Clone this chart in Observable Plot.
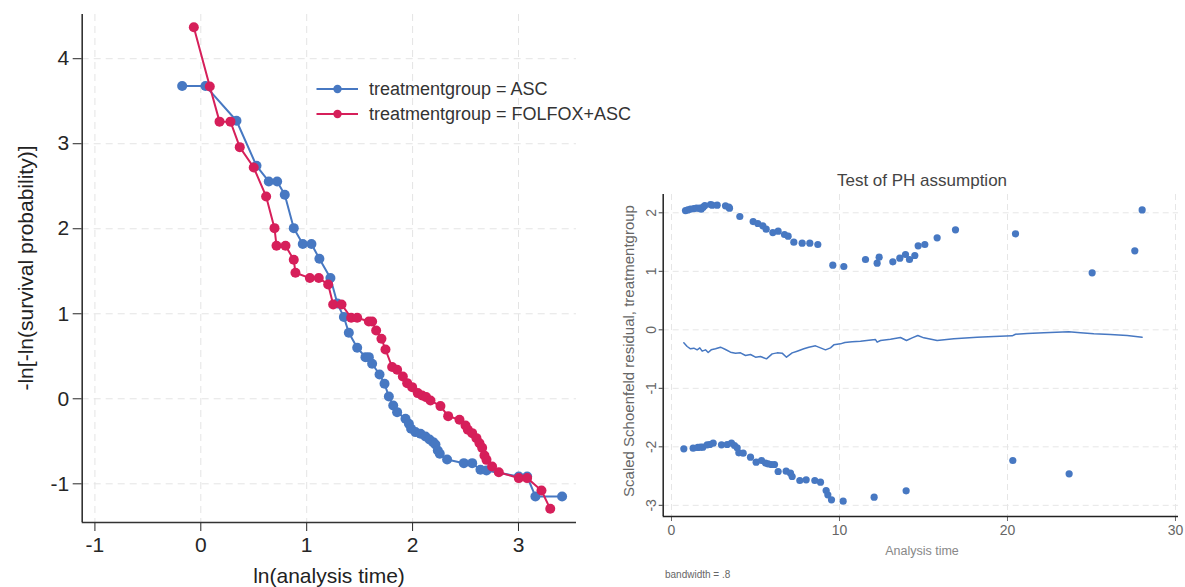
<!DOCTYPE html>
<html>
<head>
<meta charset="utf-8">
<script src="https://cdn.jsdelivr.net/npm/d3@7"></script>
<script src="https://cdn.jsdelivr.net/npm/@observablehq/plot@0.6"></script>
<style>
  html, body { margin: 0; padding: 0; background: #fff; }
  #wrap { position: relative; width: 1185px; height: 587px; overflow: hidden; font-family: "Liberation Sans", Arial, sans-serif; }
  #wrap svg { position: absolute; top: 0; overflow: visible; }
  .t { position: absolute; white-space: nowrap; line-height: 1; }
</style>
</head>
<body>
<div id="wrap"></div>
<script>
// ---------- Left panel: log-log survival ----------
const groupNames = ["treatmentgroup = ASC", "treatmentgroup = FOLFOX+ASC"];
const xTicksL = [-1, 0, 1, 2, 3];
const yTicksL = [-1, 0, 1, 2, 3, 4];

const ascLnT = [-0.176, 0.044, 0.337, 0.526, 0.642, 0.721, 0.793, 0.878, 0.963, 1.045, 1.12, 1.224, 1.29, 1.351, 1.398, 1.477, 1.555, 1.587, 1.618, 1.688, 1.735, 1.776, 1.817, 1.854, 1.933, 1.965, 1.986, 2.027, 2.075, 2.122, 2.16, 2.194, 2.216, 2.238, 2.257, 2.326, 2.484, 2.563, 2.641, 2.698, 3.003, 3.082, 3.16, 3.412];
const ascVal = [3.68, 3.68, 3.27, 2.74, 2.556, 2.556, 2.40, 2.007, 1.82, 1.82, 1.647, 1.42, 1.12, 0.961, 0.776, 0.600, 0.490, 0.490, 0.412, 0.286, 0.176, 0.027, -0.079, -0.157, -0.235, -0.294, -0.353, -0.392, -0.412, -0.443, -0.479, -0.510, -0.537, -0.608, -0.647, -0.714, -0.757, -0.757, -0.835, -0.843, -0.914, -0.914, -1.149, -1.149];

const folLnT = [-0.066, 0.085, 0.177, 0.28, 0.368, 0.50, 0.617, 0.696, 0.715, 0.80, 0.878, 0.894, 1.03, 1.114, 1.203, 1.25, 1.329, 1.42, 1.477, 1.587, 1.618, 1.656, 1.706, 1.744, 1.807, 1.854, 1.908, 1.949, 1.996, 2.049, 2.09, 2.128, 2.169, 2.263, 2.336, 2.443, 2.5, 2.522, 2.563, 2.603, 2.632, 2.657, 2.679, 2.698, 2.751, 2.814, 3.003, 3.082, 3.217, 3.30];
const folVal = [4.37, 3.674, 3.26, 3.26, 2.96, 2.72, 2.38, 2.007, 1.80, 1.80, 1.635, 1.482, 1.42, 1.42, 1.345, 1.11, 1.11, 0.953, 0.953, 0.91, 0.91, 0.804, 0.706, 0.58, 0.373, 0.341, 0.263, 0.184, 0.137, 0.067, 0.039, 0.02, -0.02, -0.086, -0.204, -0.247, -0.314, -0.365, -0.404, -0.463, -0.522, -0.577, -0.667, -0.718, -0.796, -0.863, -0.933, -0.933, -1.079, -1.294];

// ---------- Right panel: Schoenfeld residuals ----------
const xTicksR = [0, 10, 20, 30];
const yTicksR = [-3, -2, -1, 0, 1, 2];

const topT = [0.833, 0.972, 1.131, 1.329, 1.488, 1.666, 1.766, 1.885, 1.984, 2.321, 2.42, 2.718, 3.214, 3.412, 3.452, 4.067, 4.861, 5.139, 5.436, 5.635, 6.032, 6.349, 6.726, 6.944, 7.282, 7.778, 8.234, 8.71, 9.603, 10.258, 11.548, 12.242, 12.361, 13.175, 13.591, 13.929, 14.167, 14.484, 14.683, 15.079, 15.813, 16.905, 20.476, 25.04, 27.579, 28.016];
const topV = [2.039, 2.05, 2.062, 2.073, 2.079, 2.079, 2.062, 2.096, 2.125, 2.142, 2.13, 2.13, 2.119, 2.096, 2.079, 1.937, 1.851, 1.817, 1.777, 1.72, 1.663, 1.686, 1.629, 1.6, 1.498, 1.481, 1.481, 1.458, 1.105, 1.082, 1.202, 1.139, 1.241, 1.162, 1.224, 1.287, 1.202, 1.27, 1.435, 1.458, 1.572, 1.709, 1.64, 0.974, 1.35, 2.05];

const botT = [0.734, 1.289, 1.567, 1.726, 1.865, 2.123, 2.282, 2.48, 2.976, 3.313, 3.571, 3.75, 3.909, 4.008, 4.266, 4.702, 5.039, 5.357, 5.595, 5.754, 5.952, 6.131, 6.349, 6.825, 7.083, 7.182, 7.639, 8.016, 8.532, 8.869, 9.206, 9.306, 9.524, 10.218, 12.063, 13.968, 20.317, 23.67];
const botV = [-2.034, -2.023, -2.011, -2.006, -2.006, -1.966, -1.96, -1.937, -1.966, -1.96, -1.937, -1.977, -2.017, -2.103, -2.108, -2.177, -2.262, -2.234, -2.279, -2.291, -2.302, -2.302, -2.422, -2.416, -2.45, -2.507, -2.576, -2.564, -2.576, -2.604, -2.747, -2.821, -2.906, -2.929, -2.86, -2.752, -2.234, -2.462];

const smoothT = [0.734, 0.932, 1.131, 1.329, 1.528, 1.686, 1.825, 2.024, 2.182, 2.361, 2.619, 2.916, 3.214, 3.512, 3.809, 4.107, 4.405, 4.702, 5.0, 5.298, 5.655, 5.992, 6.29, 6.587, 6.845, 7.182, 7.48, 7.877, 8.175, 8.571, 8.869, 9.167, 9.464, 9.663, 10.06, 10.317, 10.754, 11.25, 11.746, 12.143, 12.242, 12.44, 13.036, 13.631, 13.988, 14.325, 14.663, 15.02, 15.813, 16.806, 18.194, 19.187, 20.278, 20.476, 21.171, 22.163, 23.651, 24.345, 25.139, 26.131, 27.123, 28.016];
const smoothV = [-0.223, -0.285, -0.325, -0.314, -0.342, -0.308, -0.365, -0.342, -0.388, -0.342, -0.325, -0.297, -0.337, -0.382, -0.399, -0.394, -0.439, -0.422, -0.468, -0.456, -0.496, -0.411, -0.394, -0.399, -0.468, -0.394, -0.365, -0.325, -0.297, -0.274, -0.308, -0.342, -0.308, -0.257, -0.24, -0.217, -0.206, -0.194, -0.177, -0.166, -0.211, -0.183, -0.16, -0.132, -0.183, -0.137, -0.097, -0.137, -0.183, -0.154, -0.126, -0.114, -0.103, -0.075, -0.063, -0.052, -0.035, -0.052, -0.069, -0.08, -0.097, -0.126];

// ---------- styling ----------
const BLUE = "#4778c2";
const RED = "#d61f5a";
const FONT = "'Liberation Sans', Arial, sans-serif";
const xDomL = [-1.12, 3.548];
const yDomL = [-1.455, 4.52];
const xDomR = [-0.494, 30.18];
const yDomR = [-3.191, 2.313];
const fmt = d => String(d);

const wrap = document.getElementById("wrap");

const left = Plot.plot({
  width: 600, height: 587,
  marginLeft: 81.7, marginRight: 24, marginTop: 14, marginBottom: 65,
  x: {domain: xDomL},
  y: {domain: yDomL},
  style: {fontFamily: FONT, background: "transparent"},
  marks: [
    Plot.gridX(xTicksL, {stroke: "#e4e4e4", strokeOpacity: 1, strokeDasharray: "7,5"}),
    Plot.gridY(yTicksL, {stroke: "#e4e4e4", strokeOpacity: 1, strokeDasharray: "7,5"}),
    Plot.axisX(xTicksL, {tickSize: 9, tickPadding: 6, fontSize: 21, color: "#262626", tickFormat: fmt, label: null}),
    Plot.axisY(yTicksL, {tickSize: 9, tickPadding: 4, fontSize: 21, color: "#262626", tickFormat: fmt, label: null}),
    Plot.ruleX([xDomL[0]], {stroke: "#333", strokeWidth: 1.6}),
    Plot.ruleY([yDomL[0]], {stroke: "#333", strokeWidth: 1.6}),
    Plot.line({length: ascLnT.length}, {x: ascLnT, y: ascVal, stroke: BLUE, strokeWidth: 2}),
    Plot.dot({length: ascLnT.length}, {x: ascLnT, y: ascVal, r: 5, fill: BLUE}),
    Plot.line({length: folLnT.length}, {x: folLnT, y: folVal, stroke: RED, strokeWidth: 2}),
    Plot.dot({length: folLnT.length}, {x: folLnT, y: folVal, r: 5, fill: RED})
  ]
});
left.style.left = "0px";
wrap.appendChild(left);

const right = Plot.plot({
  width: 585, height: 587,
  marginLeft: 62.7, marginRight: 7, marginTop: 194, marginBottom: 71,
  x: {domain: xDomR},
  y: {domain: yDomR},
  style: {fontFamily: FONT, background: "transparent"},
  marks: [
    Plot.gridX(xTicksR, {stroke: "#e6e6e6", strokeOpacity: 1, strokeDasharray: "6,4"}),
    Plot.gridY(yTicksR, {stroke: "#e6e6e6", strokeOpacity: 1, strokeDasharray: "6,4"}),
    Plot.axisX(xTicksR, {tickSize: 5, tickPadding: 4, fontSize: 14, color: "#666", tickFormat: fmt, label: null}),
    Plot.axisY(yTicksR, {tickSize: 4, tickPadding: 0, tickFormat: () => "", label: null, color: "#444"}),
    Plot.text(yTicksR, {y: d => d, text: fmt, frameAnchor: "left", dx: -7, rotate: -90, textAnchor: "middle", lineAnchor: "bottom", fontSize: 14, fill: "#666"}),
    Plot.ruleX([xDomR[0]], {stroke: "#222", strokeWidth: 1.5}),
    Plot.ruleY([yDomR[0]], {stroke: "#222", strokeWidth: 1.5}),
    Plot.line({length: smoothT.length}, {x: smoothT, y: smoothV, stroke: BLUE, strokeWidth: 1.5}),
    Plot.dot({length: topT.length}, {x: topT, y: topV, r: 3.6, fill: BLUE}),
    Plot.dot({length: botT.length}, {x: botT, y: botV, r: 3.6, fill: BLUE})
  ]
});
right.style.left = "600px";
wrap.appendChild(right);

// ---------- text: titles, legend ----------
function addText(str, x, y, size, color, opts = {}) {
  const d = document.createElement("div");
  d.className = "t";
  d.textContent = str;
  d.style.fontSize = size + "px";
  d.style.color = color;
  d.style.left = x + "px";
  d.style.top = y + "px";
  d.style.transform = opts.rotate ? "translate(-50%,-50%) rotate(-90deg)" : (opts.center ? "translate(-50%,-50%)" : "translate(0,-50%)");
  wrap.appendChild(d);
  return d;
}
addText("ln(analysis time)", 329, 575, 21, "#222", {center: true});
addText("-ln[-ln(survival probability)]", 25, 268, 21, "#222", {rotate: true});

// legend
const legendColors = [BLUE, RED];
groupNames.forEach((name, i) => {
  const cy = 89.3 + i * 25;
  const sw = document.createElementNS("http://www.w3.org/2000/svg", "svg");
  sw.setAttribute("width", 44); sw.setAttribute("height", 12);
  sw.style.left = "316px"; sw.style.top = (cy - 6) + "px";
  const ln = document.createElementNS("http://www.w3.org/2000/svg", "line");
  ln.setAttribute("x1", 0.5); ln.setAttribute("x2", 42); ln.setAttribute("y1", 6); ln.setAttribute("y2", 6);
  ln.setAttribute("stroke", legendColors[i]); ln.setAttribute("stroke-width", 2);
  const c = document.createElementNS("http://www.w3.org/2000/svg", "circle");
  c.setAttribute("cx", 21.5); c.setAttribute("cy", 6); c.setAttribute("r", 4.2); c.setAttribute("fill", legendColors[i]);
  sw.appendChild(ln); sw.appendChild(c);
  wrap.appendChild(sw);
  addText(name, 369, cy, 18, "#333");
});

addText("Test of PH assumption", 922, 180, 17, "#444", {center: true});
addText("Scaled Schoenfeld residual, treatmentgroup", 628, 351, 15, "#666", {rotate: true});
addText("Analysis time", 922, 551, 12.5, "#888", {center: true});
addText("bandwidth = .8", 665, 575, 10, "#666");
</script>
</body>
</html>
